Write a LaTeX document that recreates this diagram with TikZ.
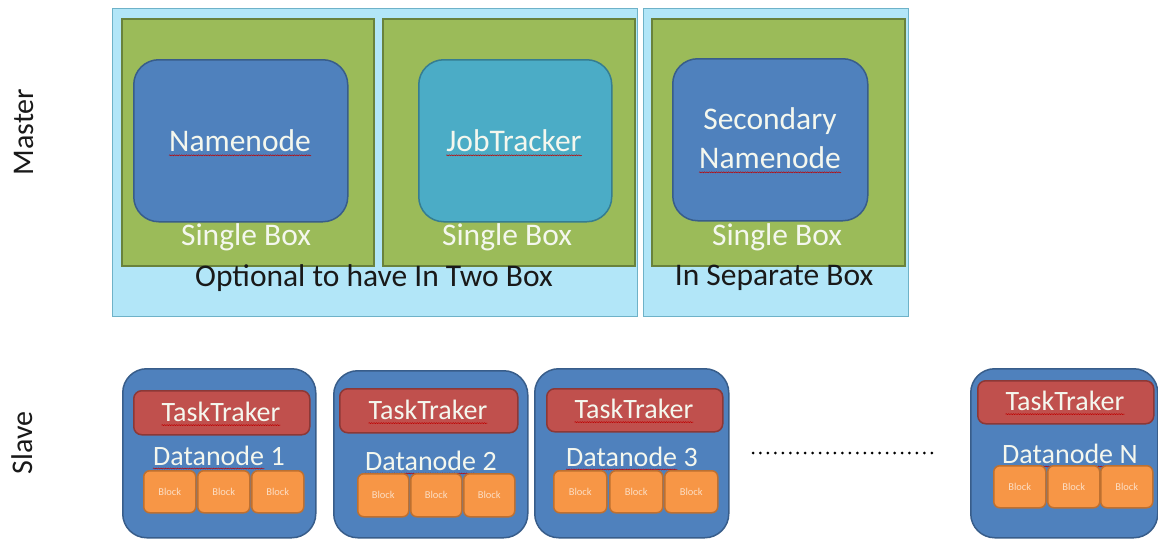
\documentclass[tikz,border=0pt]{standalone}
\usepackage{fontspec}
\setmainfont{Carlito}
\usetikzlibrary{decorations.pathmorphing}
\definecolor{ltblue}{RGB}{178,230,248}
\definecolor{ltblueb}{RGB}{110,178,200}
\definecolor{grn}{RGB}{155,187,89}
\definecolor{grnb}{RGB}{105,130,60}
\definecolor{blu}{RGB}{79,129,189}
\definecolor{blub}{RGB}{56,93,138}
\definecolor{teal2}{RGB}{75,172,198}
\definecolor{teal2b}{RGB}{53,125,145}
\definecolor{redf}{RGB}{192,80,77}
\definecolor{redb}{RGB}{140,56,54}
\definecolor{orng}{RGB}{247,150,70}
\definecolor{orngb}{RGB}{190,112,48}
\definecolor{wtxt}{RGB}{244,247,238}
\definecolor{otxt}{RGB}{252,222,196}
\definecolor{btxt}{RGB}{25,25,25}
\tikzset{
  outerbox/.style={draw=ltblueb, fill=ltblue, line width=1.2pt, anchor=north west, inner sep=0pt},
  greenbox/.style={draw=grnb, fill=grn, line width=1.5pt, anchor=north west, inner sep=0pt},
  bluebox/.style={draw=blub, fill=blu, line width=1.5pt, rounded corners=25pt, anchor=north west, inner sep=0pt},
  tealbox/.style={draw=teal2b, fill=teal2, line width=1.5pt, rounded corners=25pt, anchor=north west, inner sep=0pt},
  slavebox/.style={draw=blub, fill=blu, line width=1.5pt, rounded corners=24pt, anchor=north west, inner sep=0pt},
  redbox/.style={draw=redb, fill=redf, line width=1.5pt, rounded corners=8pt, anchor=north west, inner sep=0pt},
  blockbox/.style={draw=orngb, fill=orng, line width=1.5pt, rounded corners=6pt, anchor=north west, inner sep=0pt,
     text=otxt, font=\fontsize{10.5}{11}\selectfont, align=center},
  bigw/.style={text=wtxt, inner sep=0pt, font=\fontsize{31.5}{33}\selectfont},
  bigb/.style={text=btxt, inner sep=0pt, font=\fontsize{31.5}{33}\selectfont},
  midw/.style={text=wtxt, inner sep=0pt, font=\fontsize{28}{30}\selectfont},
  side/.style={text=btxt, inner sep=0pt, rotate=90, font=\fontsize{30}{32}\selectfont},
  squig/.style={draw=red!75!black, line width=0.5pt, decorate, decoration={snake, amplitude=0.5pt, segment length=2.4pt}},
  dotline/.style={draw=black, line width=3pt, line cap=round, dash pattern=on 0pt off 7.45pt}
}
\newcommand{\squnder}[1]{\draw[squig] ([yshift=-3.5pt]#1.base west) -- ([yshift=-3.5pt]#1.base east);}
\begin{document}
\begin{tikzpicture}[x=1pt,y=-1pt]
\useasboundingbox (0,0) rectangle (1158,538);
\fill[white] (0,0) rectangle (1158,538);

% side labels
\node[side] (master) at (24,132) {Master};
\node[side] (slave) at (22,443) {Slave};

% master outer boxes
\node[outerbox, minimum width=525pt, minimum height=308pt] (boxA) at (112,8) {};
\node[outerbox, minimum width=265pt, minimum height=308pt] (boxB) at (643,8) {};
% green boxes
\node[greenbox, minimum width=252pt, minimum height=247pt] (g1) at (121,18) {};
\node[greenbox, minimum width=252pt, minimum height=247pt] (g2) at (382,18) {};
\node[greenbox, minimum width=253pt, minimum height=247pt] (g3) at (651,18) {};
% inner nodes
\node[bluebox, minimum width=214pt, minimum height=162pt] (nn) at (133,59) {};
\node[tealbox, minimum width=193pt, minimum height=162pt] (jt) at (418,59) {};
\node[bluebox, minimum width=195pt, minimum height=162pt] (snn) at (672,58) {};

\node[bigw] (nnt) at (240,141) {Namenode}; \squnder{nnt}
\node[bigw] (jtt) at (514,141) {JobTracker}; \squnder{jtt}
\node[bigw] (snt1) at (770,121) {Secondary};
\node[bigw] (snt2) at (770,158) {Namenode}; \squnder{snt2}

\node[bigw] (sb1) at (246,237) {Single Box};
\node[bigw] (sb2) at (507,237) {Single Box};
\node[bigw] (sb3) at (777,237) {Single Box};
\node[bigb] (opt) at (374,278) {Optional to have In Two Box};
\node[bigb] (sep) at (774,278) {In Separate Box};

% slaves
\node[slavebox, minimum width=193pt, minimum height=169pt] (s1) at (122,368) {};
\node[slavebox, minimum width=194pt, minimum height=167pt] (s2) at (333,370) {};
\node[slavebox, minimum width=194pt, minimum height=169pt] (s3) at (534,368) {};
\node[slavebox, minimum width=187pt, minimum height=169pt] (sN) at (970,368) {};

\node[redbox, minimum width=176pt, minimum height=44pt] (t1) at (133,390) {};
\node[redbox, minimum width=178pt, minimum height=44pt] (t2) at (339,388) {};
\node[redbox, minimum width=176pt, minimum height=43pt] (t3) at (546,388) {};
\node[redbox, minimum width=176pt, minimum height=43pt] (tN) at (977,380) {};

\node[midw] (tt1) at (221,412) {TaskTraker}; \squnder{tt1}
\node[midw] (tt2) at (428,410) {TaskTraker}; \squnder{tt2}
\node[midw] (tt3) at (634,409) {TaskTraker}; \squnder{tt3}
\node[midw] (ttN) at (1065,401) {TaskTraker}; \squnder{ttN}

\node[midw, anchor=base west] (dn1) at (153,465) {Datanode}; \squnder{dn1}
\node[midw, anchor=base west] (dn1n) at ([xshift=6pt]dn1.base east) {1};
\node[midw, anchor=base west] (dn2) at (365,470) {Datanode}; \squnder{dn2}
\node[midw, anchor=base west] (dn2n) at ([xshift=6pt]dn2.base east) {2};
\node[midw, anchor=base west] (dn3) at (566,466) {Datanode}; \squnder{dn3}
\node[midw, anchor=base west] (dn3n) at ([xshift=6pt]dn3.base east) {3};
\node[midw, anchor=base west] (dnN) at (1002,463) {Datanode}; \squnder{dnN}
\node[midw, anchor=base west] (dnNn) at ([xshift=6pt]dnN.base east) {N};

% blocks
\foreach \x/\n in {143/a,197/b,251/c}
  \node[blockbox, minimum width=52pt, minimum height=42pt] (b1\n) at (\x,470) {Block};
\foreach \x/\n in {357/a,410/b,463/c}
  \node[blockbox, minimum width=51pt, minimum height=43pt] (b2\n) at (\x,473) {Block};
\foreach \x/\n in {553/a,609/b,664/c}
  \node[blockbox, minimum width=53pt, minimum height=42pt] (b3\n) at (\x,470) {Block};
\foreach \x/\n in {993/a,1047/b,1100/c}
  \node[blockbox, minimum width=52pt, minimum height=42pt] (bN\n) at (\x,465) {Block};

% dots
\coordinate (d1) at (753,453);
\coordinate (d2) at (933,453);
\draw[dotline] (d1) -- (d2);
\end{tikzpicture}
\end{document}
